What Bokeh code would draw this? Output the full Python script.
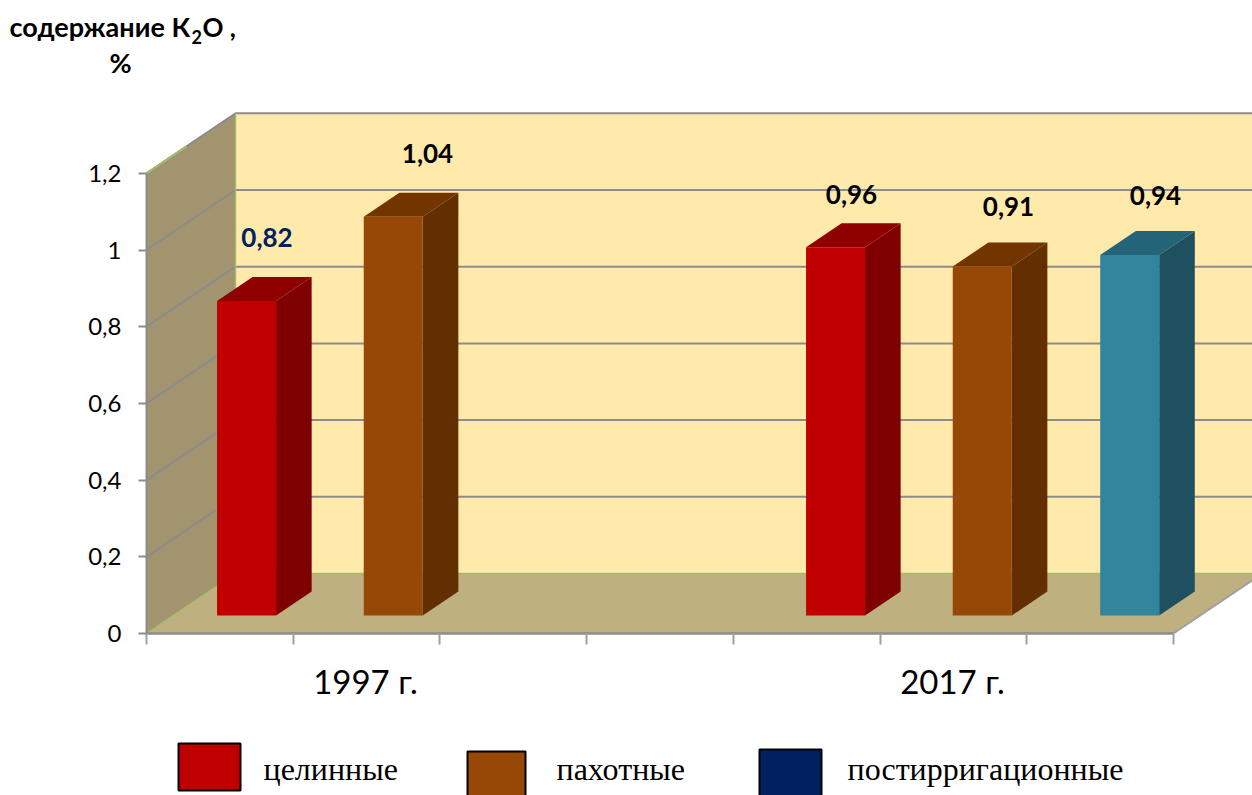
from bokeh.plotting import figure
from bokeh.models import LinearAxis, FixedTicker, Range1d
from bokeh.core.properties import value
from bokeh.embed import file_html
from bokeh.resources import INLINE

# ---- data ----
series_names = ["целинные", "пахотные", "постирригационные"]
group_labels = ["1997 г.", "2017 г."]
bar_values = [0.82, 1.04, 0.96, 0.91, 0.94]
bar_labels = ["0,82", "1,04", "0,96", "0,91", "0,94"]
bar_slots = [0.5, 1.5, 4.515, 5.515, 6.52]
y_ticks = [0, 0.2, 0.4, 0.6, 0.8, 1.0, 1.2]
y_tick_labels = ["0", "0,2", "0,4", "0,6", "0,8", "1", "1,2"]
x_ticks = [0, 1, 2, 3, 4, 5, 6, 7]

# ---- styles ----
bar_front = ["#C00000", "#974706", "#C00000", "#974706", "#31859C"]
bar_top = ["#8F0000", "#733500", "#8F0000", "#733500", "#246479"]
bar_side = ["#7F0000", "#632F01", "#7F0000", "#632F01", "#1E5060"]
label_color = ["#002060", "#000000", "#000000", "#000000", "#000000"]
legend_fill = ["#C00000", "#974706", "#002060"]
GRID = "#8C8C8C"
GREEN = "#A3BC6B"
SANS = "Lato"
SERIF = "Liberation Serif"

# ---- layout (pixel geometry of the page) ----
W, H = 1252, 795
X0, Y0 = 146.0, 633.0      # picture pixel of the origin
UX, UY = 146.7, 383.5      # pixels per slot / per unit value
DX, DY = 89 / UX, 60 / UY  # depth of the box in data units
BAR_W = 59 / UX
Z0, Z1 = 0.30, 0.70
XMAX = (W - X0) / UX


def dx(px):
    return (px - X0) / UX


def dy(py):
    return (Y0 - py) / UY


p = figure(width=W, height=H, output_backend="svg", toolbar_location=None,
           x_axis_location=None, y_axis_location=None, min_border=0,
           x_range=Range1d(dx(0), dx(W)), y_range=Range1d(dy(H), dy(0)),
           background_fill_color="white", border_fill_color="white", outline_line_color=None)
p.grid.visible = False

ymax = max(y_ticks)
# left wall, back wall, floor
p.patch([0, DX, DX, 0], [0, DY, ymax + DY, ymax], fill_color="#A39470", line_color=None)
p.patch([DX, XMAX, XMAX, DX], [DY, DY, ymax + DY, ymax + DY], fill_color="#FFE9AB", line_color=None)
p.patch([0, 7, 7 + DX, DX], [0, 0, DY, DY], fill_color="#BFB17F", line_color=None)

# gridlines
for v in y_ticks[1:]:
    p.line([0, DX, XMAX], [v, v + DY, v + DY], line_color=GRID, line_width=2)
p.line([0, DX * 0.45], [ymax, ymax + DY * 0.45], line_color=GREEN, line_width=2)
p.line([DX, DX], [DY, ymax + DY], line_color=GREEN, line_width=1.5)
p.line([0, DX, XMAX], [0, DY, DY], line_color=GREEN, line_width=1.5)
p.line([7, 7 + DX], [0, DY], line_color="#A0A0A0", line_width=2)

# bars
for s, v, f, t, c in zip(bar_slots, bar_values, bar_front, bar_top, bar_side):
    l0 = s - BAR_W / 2 + Z0 * DX
    r0 = l0 + BAR_W
    l1 = s - BAR_W / 2 + Z1 * DX
    r1 = l1 + BAR_W
    b0, b1 = Z0 * DY, Z1 * DY
    p.patch([r0, r1, r1, r0], [b0, b1, v + b1, v + b0], fill_color=c, line_color=None)
    p.patch([l0, r0, r1, l1], [v + b0, v + b0, v + b1, v + b1], fill_color=t, line_color=None)
    p.patch([l0, r0, r0, l0], [b0, b0, v + b0, v + b0], fill_color=f, line_color=None)

# axes
yax = LinearAxis(fixed_location=0, ticker=FixedTicker(ticks=y_ticks), bounds=(0, ymax),
                 major_label_overrides={t: s for t, s in zip(y_ticks, y_tick_labels)})
yax.axis_line_color = "#8C8C8C"
yax.axis_line_width = 2
yax.major_tick_line_color = "#8C8C8C"
yax.major_tick_line_width = 2
yax.major_tick_out = 8
yax.major_tick_in = 0
yax.minor_tick_line_color = None
yax.major_label_standoff = 17
yax.major_label_text_font = SANS
yax.major_label_text_font_size = "24px"
yax.major_label_text_color = "#000000"
p.add_layout(yax, "left")

xax = LinearAxis(fixed_location=0, ticker=FixedTicker(ticks=x_ticks), bounds=(0, 7))
xax.axis_line_color = "#8C8C8C"
xax.axis_line_width = 2.5
xax.major_tick_line_color = "#A0A0A0"
xax.major_tick_line_width = 2
xax.major_tick_out = 11
xax.major_tick_in = 0
xax.minor_tick_line_color = None
xax.major_label_text_font_size = "0px"
xax.major_label_text_color = None
p.add_layout(xax, "below")


def txt(px, py, s, font, size, color="#000000", style="normal", align="center"):
    p.text([dx(px)], [dy(py)], text=[s], text_font=value(font), text_font_size=value(f"{size}px"),
           text_color=color, text_font_style=style, text_align=align, text_baseline="middle")


# data labels
label_px = [(266.5, 237), (427, 153), (851, 194), (1008, 206), (1155, 195)]
for (x, y), s, c in zip(label_px, bar_labels, label_color):
    txt(x, y, s, SANS, 26, c, "bold")

# category labels
for (x, y), s in zip([(365, 680), (952, 680)], group_labels):
    txt(x, y, s, SANS, 33)

# axis title
txt(9, 26, "содержание К", SANS, 27, style="bold", align="left")
txt(191, 36, "2", SANS, 18, style="bold", align="left")
txt(202, 26, "O ,", SANS, 26, style="bold", align="left")
txt(120, 62, "%", SANS, 27, style="bold")

# legend
swatches = [(178, 240, 743, 790), (467, 525, 751, 800), (759, 821, 749, 800)]
legend_text_x = [263, 556, 847]
for (l, r, t, b), c, s, tx in zip(swatches, legend_fill, series_names, legend_text_x):
    p.quad(left=[dx(l)], right=[dx(r)], top=[dy(t)], bottom=[dy(b)], fill_color=c,
           line_color="#000000", line_width=2)
    txt(tx, 768, s, SERIF, 32, align="left")

open("out.html", "w").write(file_html(p, INLINE))
